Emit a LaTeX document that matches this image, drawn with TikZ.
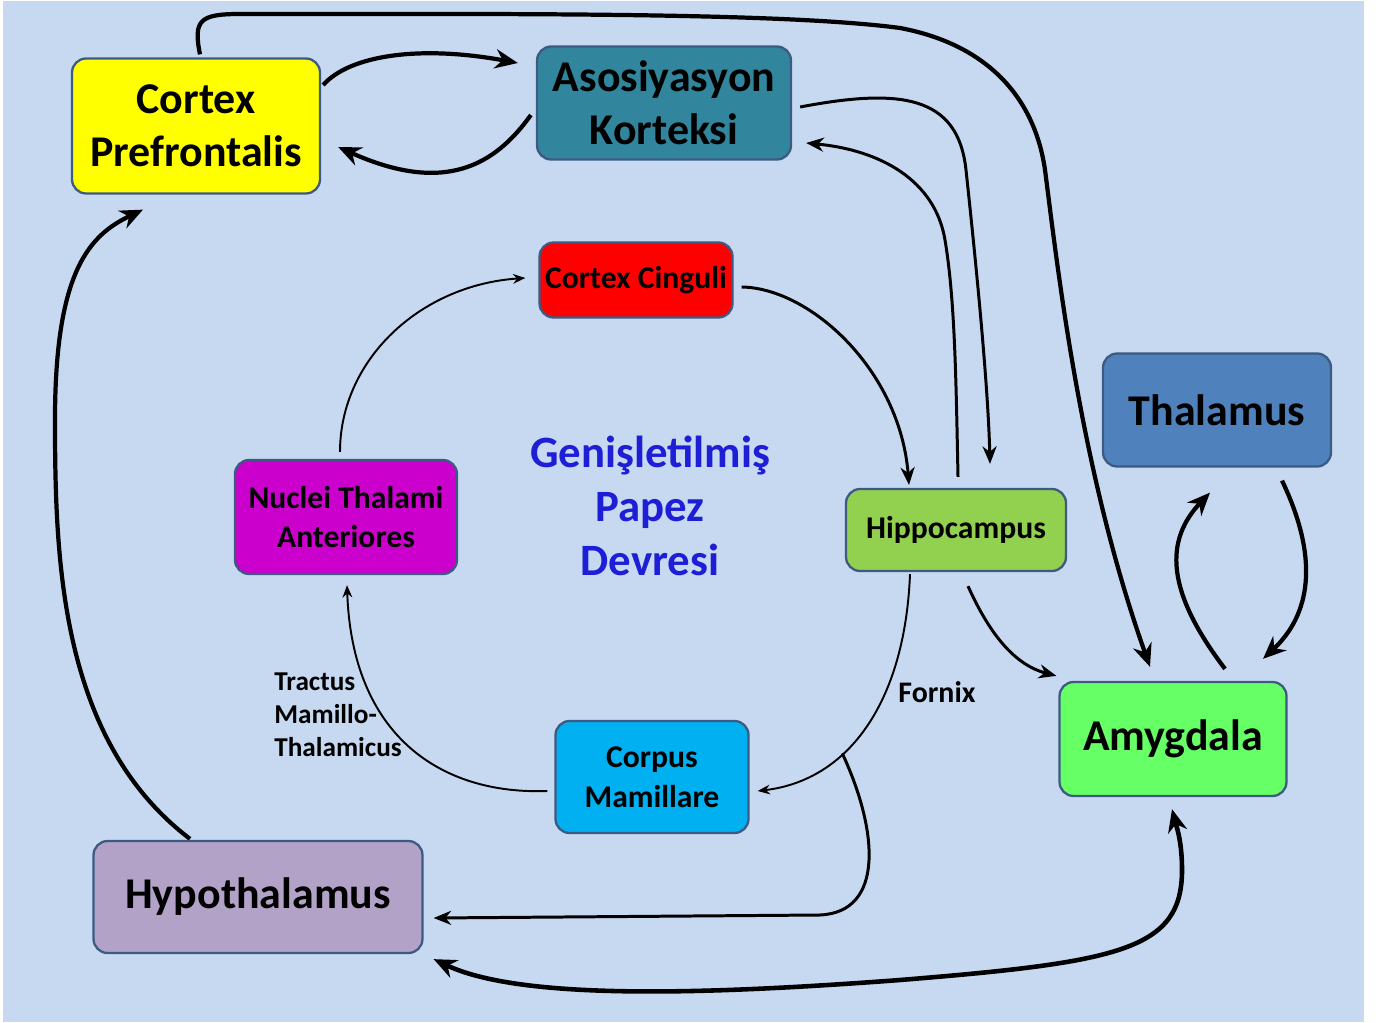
\documentclass[tikz,border=0pt]{standalone}
\usepackage{fontspec}
\setmainfont{Carlito}
\usepackage{tikz}
\usetikzlibrary{arrows.meta,calc}
\pgfdeclarelayer{bglayer}
\pgfdeclarelayer{edgelayer}
\pgfdeclarelayer{nodelayer}
\pgfsetlayers{bglayer,edgelayer,nodelayer,main}
\definecolor{bgblue}{RGB}{198,217,240}
\definecolor{boxline}{RGB}{60,90,130}
\definecolor{cpfyellow}{RGB}{255,255,0}
\definecolor{akteal}{RGB}{49,133,156}
\definecolor{ccred}{RGB}{255,0,0}
\definecolor{ntamagenta}{RGB}{204,0,204}
\definecolor{hipgreen}{RGB}{146,208,80}
\definecolor{thablue}{RGB}{79,129,189}
\definecolor{amygreen}{RGB}{102,255,102}
\definecolor{cmcyan}{RGB}{0,176,240}
\definecolor{hyplilac}{RGB}{179,162,199}
\definecolor{papezblue}{RGB}{30,30,215}
\tikzstyle{box}=[draw=boxline, line width=1.3pt, rounded corners=8pt, align=center, inner sep=0pt]
\tikzstyle{big text}=[font=\fontsize{25pt}{30pt}\selectfont\bfseries]
\tikzstyle{small text}=[font=\fontsize{18pt}{22.5pt}\selectfont\bfseries]
\tikzstyle{thick edge}=[-{Stealth[length=13pt,width=11pt]}, line width=2.4pt]
\tikzstyle{double thick edge}=[{Stealth[length=13pt,width=11pt]}-{Stealth[length=13pt,width=11pt]}, line width=2.6pt]
\tikzstyle{mid edge}=[-{Stealth[length=10pt,width=8pt]}, line width=1.7pt]
\tikzstyle{thin edge}=[-{Stealth[length=7pt,width=5.5pt]}, line width=1.1pt]

\begin{document}
\begin{tikzpicture}[x=0.02cm, y=-0.02cm]
    \useasboundingbox (0,0) rectangle (1381,1023);
    \begin{pgfonlayer}{bglayer}
        \fill [white] (0,0) rectangle (1381,1023);
        \fill [bgblue] (3,1) rectangle (1364,1022);
    \end{pgfonlayer}
    \begin{pgfonlayer}{nodelayer}
        \node [style=box, style=big text, fill=cpfyellow, minimum width=4.96cm, minimum height=2.7cm] (cpf) at (196,126) {Cortex\\Prefrontalis};
        \node [style=box, style=big text, fill=akteal, minimum width=5.08cm, minimum height=2.26cm] (ak) at (664,103) {Asosiyasyon\\Korteksi};
        \node [style=box, style=small text, fill=ccred, minimum width=3.86cm, minimum height=1.5cm] (cc) at (636,280) {Cortex Cinguli};
        \node [style=box, style=small text, fill=ntamagenta, minimum width=4.44cm, minimum height=2.28cm] (nta) at (346,517) {Nuclei Thalami\\Anteriores};
        \node [style=box, style=small text, fill=hipgreen, minimum width=4.4cm, minimum height=1.64cm] (hip) at (956,530) {Hippocampus};
        \node [style=box, style=big text, fill=thablue, minimum width=4.56cm, minimum height=2.26cm] (tha) at (1217,410) {Thalamus};
        \node [style=box, style=big text, fill=amygreen, minimum width=4.54cm, minimum height=2.28cm] (amy) at (1173,739) {Amygdala};
        \node [style=box, style=small text, fill=cmcyan, minimum width=3.86cm, minimum height=2.24cm] (cm) at (652,777) {Corpus\\Mamillare};
        \node [style=box, style=big text, fill=hyplilac, minimum width=6.58cm, minimum height=2.24cm] (hyp) at (258,897) {Hypothalamus};
        \node [align=center, text=papezblue, font=\fontsize{25.5pt}{30.6pt}\selectfont\bfseries] (papez) at (650,506) {Genişletilmiş\\Papez\\Devresi};
        \node [font=\fontsize{17pt}{20pt}\selectfont\bfseries] (fornix) at (937,692) {Fornix};
        \node [anchor=west, align=left, inner sep=0pt, font=\fontsize{15.5pt}{18.7pt}\selectfont\bfseries] (tractus) at (274,715) {Tractus\\Mamillo-\\Thalamicus};
    \end{pgfonlayer}
    \begin{pgfonlayer}{edgelayer}
        % outer loop
        \draw [style=thick edge] ($(cpf.north)+(4,-3)$) .. controls (193,20) and (200,14) .. (240,14) .. controls (500,14) and (780,12) .. (900,28) .. controls (990,45) and (1035,100) .. (1045,170) .. controls (1058,270) and (1080,470) .. ($(amy.north)+(-23,-14)$);
        \draw [style=thick edge] ($(cpf.east)+(2,-41)$) .. controls (350,55) and (420,45) .. ($(ak.west)+(-18,-40)$);
        \draw [style=thick edge] ($(ak.west)+(-5,12)$) .. controls (495,165) and (445,195) .. ($(cpf.east)+(17,21)$);
        \draw [style=mid edge] ($(ak.east)+(8,4)$) .. controls (900,88) and (958,95) .. (966,170) .. controls (974,245) and (988,380) .. ($(hip.north)+(34,-24)$);
        \draw [style=mid edge] ($(hip.north)+(2,-11)$) .. controls (956,380) and (955,300) .. (945,240) .. controls (935,180) and (880,150) .. ($(ak.east)+(14,40)$);
        \draw [style=thick edge] ($(hyp.north)+(-68,-1)$) .. controls (60,740) and (55,560) .. (55,420) .. controls (55,270) and (90,235) .. ($(cpf.south)+(-53,15)$);
        \draw [style=double thick edge] ($(hyp.south east)+(10,5)$) .. controls (520,1000) and (700,995) .. (900,980) .. controls (1120,962) and (1182,950) .. (1182,870) .. controls (1182,840) and (1176,825) .. ($(amy.south)+(-1,12)$);
        % papez circuit
        \draw [style=mid edge] ($(cc.east)+(8,7)$) .. controls (810,288) and (900,370) .. ($(hip.north)+(-47,-3)$);
        \draw [style=thin edge] ($(hip.south)+(-46,2)$) .. controls (905,700) and (850,780) .. coordinate [pos=0.64] (fx) ($(cm.east)+(8,14)$);
        \draw [style=thin edge] ($(cm.west)+(-7,14)$) .. controls (440,795) and (352,735) .. ($(nta.south)+(1,10)$);
        \draw [style=thin edge] ($(nta.north)+(-6,-7)$) .. controls (340,360) and (420,285) .. ($(cc.west)+(-13,-2)$);
        \draw [style=mid edge] (fx) .. controls (878,830) and (885,912) .. (820,915) -- ($(hyp.east)+(10,21)$);
        % amygdala side
        \draw [style=mid edge] ($(hip.south)+(12,14)$) .. controls (990,635) and (1015,665) .. ($(amy.north west)+(-2,-5)$);
        \draw [style=thick edge] ($(amy.north)+(52,-12)$) .. controls (1165,590) and (1165,540) .. ($(tha.south)+(-7,25)$);
        \draw [style=thick edge] ($(tha.south)+(65,13)$) .. controls (1320,560) and (1310,615) .. ($(amy.north)+(90,-22)$);
    \end{pgfonlayer}
\end{tikzpicture}
\end{document}
